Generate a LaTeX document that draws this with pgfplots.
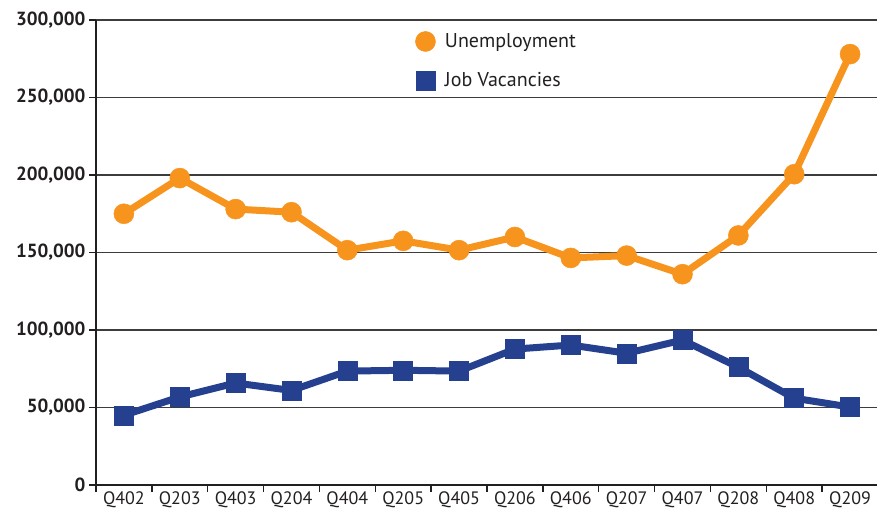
\documentclass[border=0pt]{standalone}
\usepackage{fontspec}
\setmainfont{PT Sans}
\usepackage{pgfplots}
\pgfplotsset{compat=1.18}
\definecolor{uorange}{RGB}{247,148,30}
\definecolor{vblue}{RGB}{37,64,143}
\definecolor{ink}{RGB}{35,31,32}
\definecolor{gridgray}{RGB}{60,60,60}

\begin{document}
\begin{tikzpicture}
\path[use as bounding box] (-96bp,-25bp) rectangle (781bp,485bp);
\begin{axis}[
  at={(0,0)}, anchor=south west,
  scale only axis, width=782bp, height=465bp,
  xmin=-0.5, xmax=13.5, ymin=0, ymax=300000,
  axis lines*=left,
  axis line style={line width=1.8bp, color=ink},
  xtick={-0.5,0.5,...,13.5},
  x tick label as interval,
  xticklabels={Q402,Q203,Q403,Q204,Q404,Q205,Q405,Q206,Q406,Q207,Q407,Q208,Q408,Q209},
  ytick={0,50000,100000,150000,200000,250000,300000},
  yticklabels={0,{50,000},{100,000},{150,000},{200,000},{250,000},{300,000}},
  scaled y ticks=false,
  tick align=outside,
  major tick length=7bp,
  tick style={line width=1.5bp, color=ink},
  ymajorgrids,
  major grid style={line width=1.2bp, color=gridgray},
  xticklabel style={font=\fontsize{18bp}{20bp}\selectfont, text=ink, yshift=4bp},
  yticklabel style={font=\bfseries\fontsize{19bp}{22bp}\selectfont, text=ink},
  legend style={at={(0.4,0.98)}, anchor=north west, draw=none, fill=none,
    font=\fontsize{20bp}{22bp}\selectfont, text=ink, row sep=19bp},
  legend cell align=left,
  legend image code/.code={\draw[#1, only marks] plot coordinates {(0bp,0bp)};
    \path (-10bp,0bp) (14bp,0bp);},
  clip=false,
]
\addplot[uorange, line width=7bp, mark=*, mark size=10bp,
  mark options={line width=0.5bp}]
coordinates {
  (0,175000)(1,198000)(2,178000)(3,176000)(4,151500)(5,157500)(6,151500)
  (7,160000)(8,146500)(9,148000)(10,136000)(11,161000)(12,200500)(13,278000)
};
\addlegendentry{Unemployment}
\addplot[vblue, line width=7bp, mark=square*, mark size=9.5bp,
  mark options={line width=0.5bp}]
coordinates {
  (0,45000)(1,56800)(2,65800)(3,61000)(4,73500)(5,74000)(6,73500)
  (7,87700)(8,90300)(9,85000)(10,93500)(11,76000)(12,56000)(13,50300)
};
\addlegendentry{Job Vacancies}
\end{axis}
\end{tikzpicture}
\end{document}
